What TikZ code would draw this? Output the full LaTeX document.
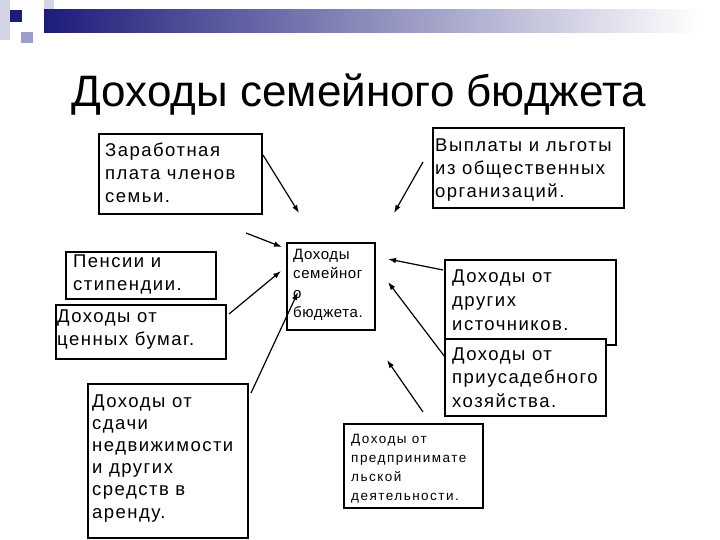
\documentclass[tikz,border=0pt]{standalone}
\usepackage{fontspec}
\setmainfont{Liberation Sans}
\newfontfamily\boxfont[LetterSpace=8]{Liberation Sans}
\newfontfamily\midfont[LetterSpace=4]{Liberation Sans}
\newfontfamily\smallfont[LetterSpace=11]{Liberation Sans}
\usetikzlibrary{arrows.meta}
\definecolor{navy}{HTML}{1C1C7A}
\definecolor{lav}{HTML}{9D9DCC}
\definecolor{lightlav}{HTML}{D4D4E6}
\definecolor{midgray}{HTML}{A8A8BE}
\tikzset{
  box/.style={draw, line width=1.6pt, fill=white, inner sep=0pt, anchor=north west},
  txt/.style={anchor=base west, inner sep=0pt},
  bigtxt/.style={txt, font=\boxfont\fontsize{18.5}{#1}\selectfont},
  midtxt/.style={txt, font=\midfont\fontsize{15}{#1}\selectfont},
  smalltxt/.style={txt, font=\smallfont\fontsize{13.5}{#1}\selectfont},
  arr/.style={line width=1.2pt, -{Latex[length=8pt,width=5.5pt]}}
}
\begin{document}
\begin{tikzpicture}[x=1pt,y=-1pt]
\useasboundingbox (0,0) rectangle (720,540);
% top decoration
\fill[lightlav] (0,0) rectangle (10,40);
\fill[navy] (10,10) rectangle (22,22);
\fill[lav] (21,32) rectangle (33,43);
\fill[lightlav] (44,0) rectangle (54,10);
\shade[left color=navy, middle color=midgray, right color=white] (44,10) rectangle (700,33);
% title
\node[anchor=base, inner sep=0pt, font=\fontsize{44}{50}\selectfont] (title) at (359,107) {Доходы семейного бюджета};
% boxes
\node[box, minimum width=163pt, minimum height=80pt] (b1) at (98,133) {};
\node[box, minimum width=191pt, minimum height=80pt] (b2) at (432,127) {};
\node[box, minimum width=150pt, minimum height=47pt] (b3) at (65,251) {};
\node[box, minimum width=170pt, minimum height=54pt] (b4) at (55,304) {};
\node[box, minimum width=88pt, minimum height=87pt] (b5) at (286,242) {};
\node[box, minimum width=171pt, minimum height=85pt] (b6) at (444,259) {};
\node[box, minimum width=161pt, minimum height=77pt] (b7) at (444,338) {};
\node[box, minimum width=160pt, minimum height=154pt] (b8) at (87,383) {};
\node[box, minimum width=139pt, minimum height=84pt] (b9) at (343,423) {};
% texts
\node[bigtxt=23] (t1) at (105,157) {\begin{tabular}[t]{@{}l@{}}Заработная\\плата членов\\семьи.\end{tabular}};
\node[bigtxt=23] (t2) at (435,152) {\begin{tabular}[t]{@{}l@{}}Выплаты и льготы\\из общественных\\организаций.\end{tabular}};
\node[bigtxt=23] (t3) at (73,267) {\begin{tabular}[t]{@{}l@{}}Пенсии и\\стипендии.\end{tabular}};
\node[bigtxt=23] (t4) at (57,322) {\begin{tabular}[t]{@{}l@{}}Доходы от\\ценных бумаг.\end{tabular}};
\node[midtxt=19.5] (t5) at (293,259) {\begin{tabular}[t]{@{}l@{}}Доходы\\семейног\\о\\бюджета.\end{tabular}};
\node[bigtxt=24] (t6) at (452,282) {\begin{tabular}[t]{@{}l@{}}Доходы от\\других\\источников.\end{tabular}};
\node[bigtxt=23.5] (t7) at (452,360) {\begin{tabular}[t]{@{}l@{}}Доходы от\\приусадебного\\хозяйства.\end{tabular}};
\node[bigtxt=22.2] (t8) at (92,407) {\begin{tabular}[t]{@{}l@{}}Доходы от\\сдачи\\недвижимости\\и других\\средств в\\аренду.\end{tabular}};
\node[smalltxt=19] (t9) at (351,443) {\begin{tabular}[t]{@{}l@{}}Доходы от\\предпринимате\\льской\\деятельности.\end{tabular}};
% arrow end points
\coordinate (s1) at (263,155); \coordinate (e1) at (299,213);
\coordinate (s2) at (423,162); \coordinate (e2) at (394,213);
\coordinate (s3) at (246,233); \coordinate (e3) at (282,247);
\coordinate (s4) at (229,314); \coordinate (e4) at (281,271);
\coordinate (s5) at (251,393); \coordinate (e5) at (298,292);
\coordinate (s6) at (443,270); \coordinate (e6) at (388,259);
\coordinate (s7) at (445,357); \coordinate (e7) at (388,282);
\coordinate (s8) at (423,412); \coordinate (e8) at (387,360);
\foreach \i in {1,...,8} {\draw[arr] (s\i) -- (e\i);}
\end{tikzpicture}
\end{document}
